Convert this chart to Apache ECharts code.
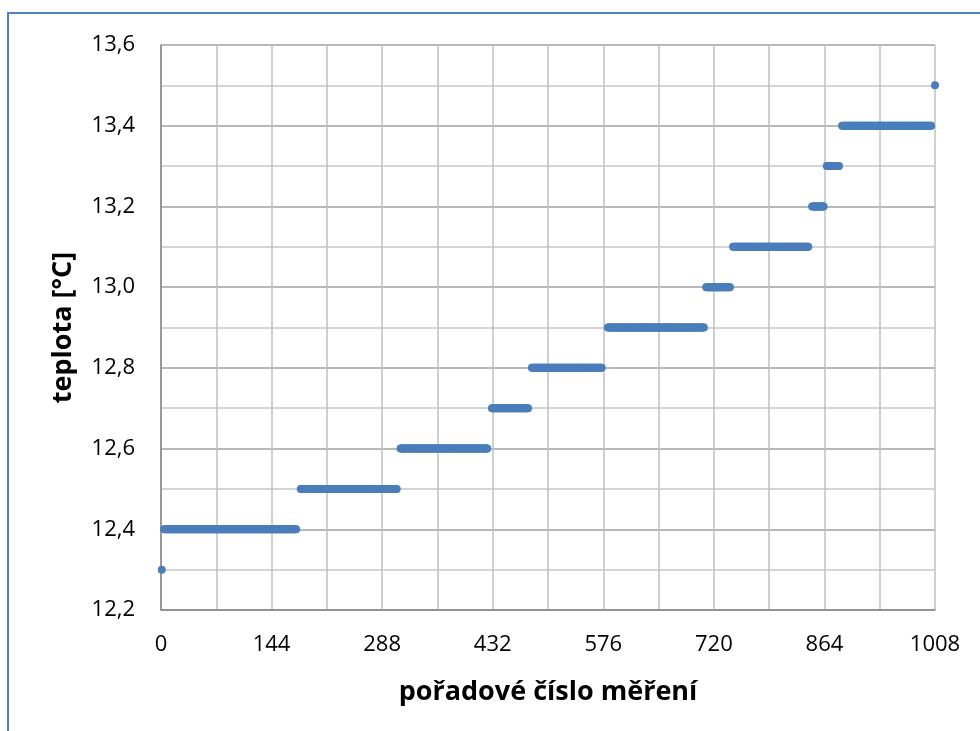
<!DOCTYPE html>
<html>
<head>
<meta charset="utf-8">
<script src="https://cdn.jsdelivr.net/npm/echarts@6/dist/echarts.min.js"></script>
<style>
  html, body { margin: 0; padding: 0; background: #fff; }
  #chart { width: 980px; height: 731px; }
</style>
</head>
<body>
<div id="chart"></div>
<script>
// Measurement runs: each run holds one temperature from a start to an end sample index
const runStart = [1,   4,    182, 312, 431, 483, 582, 710, 745, 848, 867, 887,  1008];
const runEnd   = [1,   176,  307, 425, 478, 574, 707, 741, 843, 863, 883, 1003, 1008];
const runTemp  = [12.3, 12.4, 12.5, 12.6, 12.7, 12.8, 12.9, 13.0, 13.1, 13.2, 13.3, 13.4, 13.5];

const xTicks = [0, 144, 288, 432, 576, 720, 864, 1008];
const yTicks = [12.2, 12.4, 12.6, 12.8, 13.0, 13.2, 13.4, 13.6];

// Expand the runs into individual measurements
const points = [];
for (let r = 0; r < runTemp.length; r++) {
  for (let i = runStart[r]; i <= runEnd[r]; i++) points.push([i, runTemp[r]]);
}

const font = 'Open Sans, Liberation Sans, sans-serif';
const chart = echarts.init(document.getElementById('chart'), null, { renderer: 'canvas' });
chart.setOption({
  animation: false,
  backgroundColor: '#ffffff',
  graphic: [{
    type: 'rect',
    shape: { x: 8, y: 13, width: 1100, height: 900 },
    style: { fill: 'none', stroke: '#4f81bd', lineWidth: 2 },
    silent: true
  }],
  grid: { left: 161, right: 45, top: 45, bottom: 121, containLabel: false },
  xAxis: {
    type: 'value',
    min: xTicks[0],
    max: xTicks[xTicks.length - 1],
    interval: xTicks[1] - xTicks[0],
    name: 'pořadové číslo měření',
    nameLocation: 'middle',
    nameGap: 69,
    nameTextStyle: { fontFamily: font, fontSize: 27, fontWeight: 'bold', color: '#000' },
    axisLine: { show: true, lineStyle: { color: '#868686', width: 1.5 } },
    axisTick: { show: false },
    axisLabel: { fontFamily: font, fontSize: 22, color: '#000', margin: 24, formatter: v => String(v) },
    splitLine: { show: true, lineStyle: { color: '#c0c0c0', width: 1.5 } },
    minorTick: { show: false, splitNumber: 2 },
    minorSplitLine: { show: true, lineStyle: { color: '#c0c0c0', width: 1.5 } }
  },
  yAxis: {
    type: 'value',
    min: yTicks[0],
    max: yTicks[yTicks.length - 1],
    interval: 0.2,
    name: 'teplota [°C]',
    nameLocation: 'middle',
    nameGap: 84,
    nameRotate: 90,
    nameTextStyle: { fontFamily: font, fontSize: 27, fontWeight: 'bold', color: '#000' },
    axisLine: { show: true, lineStyle: { color: '#868686', width: 1.5 } },
    axisTick: { show: false },
    axisLabel: {
      fontFamily: font, fontSize: 22, color: '#000', margin: 26,
      formatter: v => v.toFixed(1).replace('.', ',')
    },
    splitLine: { show: true, lineStyle: { color: '#a0a0a0', width: 1.5 } },
    minorTick: { show: false, splitNumber: 2 },
    minorSplitLine: { show: true, lineStyle: { color: '#c6c6c6', width: 1.5 } }
  },
  series: [{
    type: 'scatter',
    data: points,
    symbol: 'circle',
    symbolSize: 8,
    large: false,
    progressive: 0,
    itemStyle: { color: '#4a7ebb', opacity: 1 },
    clip: false
  }]
});
</script>
</body>
</html>
